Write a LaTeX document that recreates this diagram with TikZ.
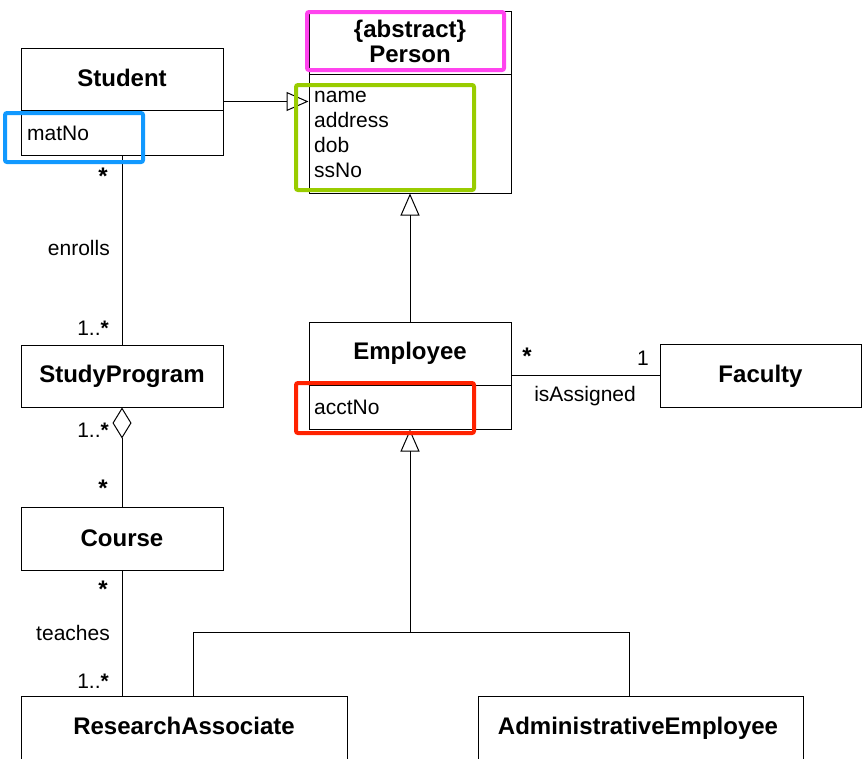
\documentclass[tikz,border=0pt]{standalone}
\usepackage{fontspec}
\setmainfont{Liberation Sans}
\usetikzlibrary{arrows.meta}
\definecolor{hlPink}{RGB}{255,68,238}
\definecolor{hlGreen}{RGB}{153,204,0}
\definecolor{hlBlue}{RGB}{17,153,255}
\definecolor{hlRed}{RGB}{255,34,0}
\tikzset{
	classbox/.style={shape=rectangle, draw, line width=1pt, inner sep=0pt},
	classname/.style={anchor=base, inner sep=0pt, font=\fontsize{24}{28}\selectfont\bfseries},
	attr/.style={anchor=base west, inner sep=0pt, font=\fontsize{21}{24}\selectfont},
	mult/.style={anchor=base east, inner sep=0pt, font=\fontsize{21}{24}\selectfont},
	star/.style={anchor=center, inner sep=0pt, font=\fontsize{24}{28}\selectfont\bfseries},
	assoc/.style={line width=1pt},
	generalize/.style={line width=1pt, -{Triangle[open, length=22pt, width=19pt]}},
	highlight/.style={draw=#1, line width=4pt, rounded corners=2pt},
}
\begin{document}
\begin{tikzpicture}[x=1pt, y=-1pt]
	\clip (0,0) rectangle (867,758);
	% classes
	\node[classbox, minimum width=202pt, minimum height=107pt] (student) at (122,101.5){} node[classname] (studentName) at (122,86){Student};
	\draw[assoc] ([yshift=-63pt]student.north west) -- ([yshift=-63pt]student.north east);
	\node[attr] (matNo) at (27,140){matNo};
	\node[classbox, minimum width=202pt, minimum height=182pt] (person) at (410,102){} node[classname] (personStereo) at (410,37){\{abstract\}};
	\node[classname] (personName) at (410,62){Person};
	\draw[assoc] ([yshift=-64pt]person.north west) -- ([yshift=-64pt]person.north east);
	\node[attr] (personAttrA) at (314,102){name};
	\node[attr] (personAttrB) at (314,127){address};
	\node[attr] (personAttrC) at (314,152){dob};
	\node[attr] (personAttrD) at (314,177){ssNo};
	\node[classbox, minimum width=202pt, minimum height=107pt] (employee) at (410,375.5){} node[classname] (employeeName) at (410,359){Employee};
	\draw[assoc] ([yshift=-64pt]employee.north west) -- ([yshift=-64pt]employee.north east);
	\node[attr] (acctNo) at (314,414){acctNo};
	\node[classbox, minimum width=201pt, minimum height=63pt] (faculty) at (760.5,375.5){} node[classname] (facultyName) at (760.5,382){Faculty};
	\node[classbox, minimum width=202pt, minimum height=62pt] (studyProgram) at (122,376){} node[classname] (studyProgramName) at (122,382){StudyProgram};
	\node[classbox, minimum width=202pt, minimum height=63pt] (course) at (122,538.5){} node[classname] (courseName) at (122,546){Course};
	\node[classbox, minimum width=326pt, minimum height=124pt] (researchAssoc) at (184,758){} node[classname] (researchAssocName) at (184,734){ResearchAssociate};
	\node[classbox, minimum width=325pt, minimum height=124pt] (adminEmployee) at (640.5,758){} node[classname] (adminEmployeeName) at (638,734){AdministrativeEmployee};
	% generalizations
	\draw[generalize] (student.east) -- (student.east -| person.west);
	\draw[generalize] (employee.north) -- (person.south);
	\coordinate (treeTop) at (410,632);
	\draw[assoc] ([xshift=173pt]researchAssoc.north west) |- (treeTop) -| ([xshift=152pt]adminEmployee.north west);
	\draw[generalize] (treeTop) -- (employee.south);
	% associations
	\draw[assoc] (student.south) -- (studyProgram.north);
	\node[star] (enrollsFrom) at (103,176){*};
	\node[mult] (enrollsLabel) at (110,255){enrolls};
	\node[mult] (enrollsTo) at (109,335){1..{\bfseries *}};
	\draw[assoc, {Diamond[open, length=31pt, width=19pt]}-] (studyProgram.south) -- (course.north);
	\node[mult] (partOfFrom) at (109,437){1..{\bfseries *}};
	\node[star] (partOfTo) at (103,488){*};
	\draw[assoc] (course.south) -- (course.south |- researchAssoc.north);
	\node[star] (teachesFrom) at (103,589){*};
	\node[mult] (teachesLabel) at (110,640){teaches};
	\node[mult] (teachesTo) at (109,688){1..{\bfseries *}};
	\draw[assoc] (employee.east) -- (faculty.west);
	\node[star] (assignedFrom) at (527,356){*};
	\node[mult] (assignedTo) at (649,365){1};
	\node[mult] (assignedLabel) at (636,401){isAssigned};
	% highlights
	\draw[highlight=hlPink] (307,12) rectangle (504,70);
	\draw[highlight=hlGreen] (296,85) rectangle (474,190);
	\draw[highlight=hlBlue] (5,113) rectangle (143,162);
	\draw[highlight=hlRed] (296,383) rectangle (474,433);
\end{tikzpicture}
\end{document}
